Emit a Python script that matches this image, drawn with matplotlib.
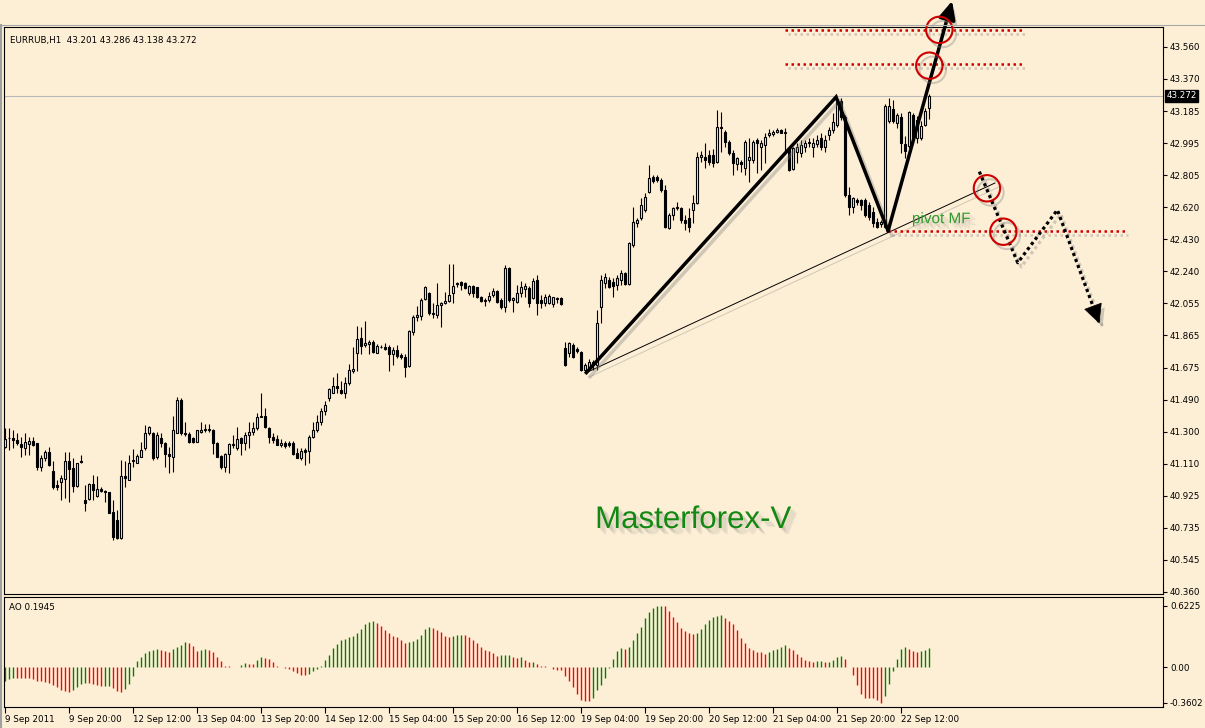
import numpy as np
import matplotlib.pyplot as plt
import matplotlib.patheffects as pe
import matplotlib.transforms as mtrans

BG = '#FDEFD6'

# EURRUB H1 candles, 9 Sep 04:00 .. 22 Sep 19:00 (one entry per hour bar)
opens = [
    41.214, 41.263, 41.263, 41.253, 41.229, 41.204, 41.227, 41.247, 41.233, 41.092,
    41.145, 41.184, 41.073, 40.989, 41.008, 41.022, 41.129, 41.086, 40.983, 41.131,
    40.900, 40.904, 40.994, 40.924, 40.965, 40.953, 40.946, 40.832, 40.783, 40.675,
    41.038, 41.018, 41.126, 41.120, 41.155, 41.204, 41.292, 41.292, 41.151, 41.263,
    41.237, 41.171, 41.155, 41.292, 41.488, 41.292, 41.288, 41.263, 41.243, 41.302,
    41.308, 41.308, 41.311, 41.237, 41.159, 41.092, 41.171, 41.229, 41.204, 41.263,
    41.233, 41.282, 41.298, 41.321, 41.386, 41.394, 41.325, 41.272, 41.257, 41.221,
    41.233, 41.235, 41.237, 41.178, 41.149, 41.194, 41.190, 41.272, 41.308, 41.360,
    41.420, 41.497, 41.530, 41.570, 41.546, 41.527, 41.585, 41.660, 41.765, 41.849,
    41.812, 41.816, 41.830, 41.765, 41.800, 41.797, 41.797, 41.757, 41.781, 41.752,
    41.742, 41.687, 41.889, 41.977, 41.983, 42.078, 42.118, 42.000, 41.986, 42.045,
    42.055, 42.071, 42.118, 42.166, 42.182, 42.172, 42.114, 42.157, 42.149, 42.094,
    42.074, 42.074, 42.104, 42.129, 42.074, 42.031, 42.260, 42.074, 42.065, 42.114,
    42.137, 42.143, 42.084, 42.192, 42.074, 42.055, 42.059, 42.051, 42.088, 42.084,
    41.791, 41.761, 41.810, 41.785, 41.771, 41.663, 41.683, 41.693, 41.693, 42.035,
    42.173, 42.192, 42.182, 42.163, 42.192, 42.235, 42.168, 42.397, 42.528, 42.554,
    42.603, 42.710, 42.795, 42.799, 42.779, 42.720, 42.495, 42.573, 42.622, 42.613,
    42.544, 42.554, 42.603, 42.642, 42.912, 42.912, 42.926, 42.926, 42.887, 43.092,
    43.063, 43.004, 42.935, 42.873, 42.887, 42.847, 42.896, 42.896, 43.014, 42.975,
    42.984, 43.043, 43.049, 43.063, 43.072, 43.057, 42.965, 42.842, 42.945, 42.935,
    42.975, 43.004, 42.975, 42.990, 43.024, 42.975, 43.043, 43.072, 43.102, 43.245,
    43.151, 42.691, 42.622, 42.662, 42.662, 42.662, 42.632, 42.593, 42.534, 42.520,
    42.505, 43.123, 43.198, 43.114, 43.147, 42.990, 42.977, 43.162, 43.025, 43.025,
    43.104, 43.201,
]
highs = [
    41.321, 41.321, 41.311, 41.292, 41.272, 41.292, 41.272, 41.272, 41.237, 41.165,
    41.194, 41.210, 41.126, 41.018, 41.047, 41.184, 41.184, 41.145, 41.120, 41.165,
    40.989, 40.998, 41.047, 41.038, 40.979, 40.959, 40.949, 40.897, 40.842, 41.135,
    41.126, 41.165, 41.198, 41.171, 41.243, 41.341, 41.335, 41.302, 41.302, 41.292,
    41.243, 41.214, 41.394, 41.507, 41.497, 41.360, 41.302, 41.272, 41.311, 41.360,
    41.347, 41.347, 41.315, 41.243, 41.165, 41.178, 41.237, 41.282, 41.331, 41.272,
    41.302, 41.360, 41.355, 41.413, 41.527, 41.439, 41.331, 41.292, 41.282, 41.257,
    41.249, 41.249, 41.249, 41.204, 41.204, 41.204, 41.282, 41.360, 41.400, 41.440,
    41.480, 41.556, 41.620, 41.648, 41.601, 41.624, 41.699, 41.796, 41.922, 41.918,
    41.953, 41.840, 41.840, 41.816, 41.810, 41.820, 41.810, 41.800, 41.810, 41.761,
    41.757, 41.898, 41.986, 42.039, 42.084, 42.157, 42.123, 42.059, 42.172, 42.065,
    42.123, 42.286, 42.286, 42.182, 42.188, 42.180, 42.163, 42.163, 42.153, 42.098,
    42.084, 42.123, 42.143, 42.133, 42.084, 42.280, 42.270, 42.094, 42.163, 42.188,
    42.172, 42.157, 42.202, 42.221, 42.104, 42.110, 42.110, 42.094, 42.094, 42.090,
    41.830, 41.830, 41.820, 41.800, 41.777, 41.703, 41.726, 41.722, 42.016, 42.221,
    42.231, 42.211, 42.202, 42.221, 42.251, 42.241, 42.417, 42.622, 42.554, 42.671,
    42.701, 42.867, 42.808, 42.808, 42.789, 42.750, 42.583, 42.622, 42.652, 42.622,
    42.573, 42.613, 42.691, 42.945, 42.951, 42.994, 42.955, 42.959, 43.190, 43.180,
    43.072, 43.014, 42.955, 42.916, 42.896, 43.014, 43.024, 43.014, 43.024, 43.014,
    43.053, 43.076, 43.072, 43.082, 43.076, 43.082, 42.975, 42.975, 42.994, 43.014,
    43.014, 43.024, 43.024, 43.043, 43.053, 43.043, 43.092, 43.170, 43.258, 43.258,
    43.160, 42.740, 42.681, 42.671, 42.665, 42.671, 42.652, 42.622, 42.554, 42.544,
    43.225, 43.260, 43.251, 43.172, 43.172, 43.035, 43.186, 43.172, 43.153, 43.123,
    43.202, 43.286,
]
lows = [
    41.204, 41.194, 41.204, 41.223, 41.155, 41.165, 41.165, 41.218, 41.077, 41.073,
    41.126, 41.100, 40.963, 40.959, 40.897, 40.910, 40.891, 40.944, 40.979, 41.120,
    40.838, 40.897, 40.900, 40.920, 40.947, 40.891, 40.822, 40.666, 40.670, 40.670,
    40.975, 41.018, 41.092, 41.116, 41.151, 41.194, 41.282, 41.135, 41.139, 41.214,
    41.092, 41.061, 41.067, 41.292, 41.282, 41.276, 41.237, 41.233, 41.243, 41.296,
    41.302, 41.302, 41.171, 41.151, 41.081, 41.067, 41.057, 41.204, 41.194, 41.165,
    41.194, 41.204, 41.282, 41.311, 41.386, 41.321, 41.233, 41.233, 41.223, 41.214,
    41.204, 41.214, 41.165, 41.145, 41.135, 41.106, 41.116, 41.262, 41.302, 41.340,
    41.400, 41.480, 41.527, 41.527, 41.523, 41.497, 41.575, 41.644, 41.660, 41.757,
    41.800, 41.757, 41.761, 41.761, 41.791, 41.781, 41.660, 41.693, 41.732, 41.726,
    41.620, 41.683, 41.869, 41.953, 41.957, 42.074, 41.986, 41.967, 41.967, 41.918,
    42.051, 42.065, 42.055, 42.149, 42.133, 42.137, 42.104, 42.094, 42.084, 42.065,
    42.039, 42.065, 42.094, 42.055, 42.022, 42.002, 42.065, 42.006, 42.059, 42.090,
    42.094, 42.031, 42.078, 41.986, 42.026, 42.039, 42.051, 42.035, 42.059, 42.047,
    41.687, 41.738, 41.732, 41.761, 41.660, 41.644, 41.667, 41.663, 41.663, 41.937,
    42.143, 42.143, 42.094, 42.133, 42.163, 42.163, 42.163, 42.387, 42.505, 42.544,
    42.593, 42.701, 42.763, 42.769, 42.710, 42.495, 42.489, 42.544, 42.603, 42.524,
    42.485, 42.476, 42.524, 42.638, 42.887, 42.847, 42.867, 42.857, 42.877, 42.945,
    42.975, 42.926, 42.808, 42.838, 42.828, 42.808, 42.769, 42.877, 42.818, 42.838,
    42.877, 43.033, 43.037, 43.053, 43.053, 42.945, 42.834, 42.838, 42.877, 42.912,
    42.945, 42.975, 42.916, 42.975, 42.955, 42.945, 43.014, 43.053, 43.092, 43.131,
    42.681, 42.573, 42.583, 42.632, 42.603, 42.564, 42.544, 42.505, 42.495, 42.505,
    42.495, 43.114, 43.114, 43.084, 42.937, 42.908, 42.967, 43.006, 42.996, 43.016,
    43.094, 43.138,
]
closes = [
    41.257, 41.265, 41.253, 41.233, 41.214, 41.243, 41.247, 41.223, 41.096, 41.145,
    41.184, 41.106, 40.979, 40.975, 41.028, 41.126, 41.081, 40.983, 41.116, 41.124,
    40.881, 40.994, 40.959, 40.963, 40.955, 40.949, 40.826, 40.685, 40.675, 41.038,
    41.028, 41.116, 41.135, 41.159, 41.194, 41.296, 41.327, 41.145, 41.282, 41.233,
    41.169, 41.161, 41.311, 41.488, 41.296, 41.286, 41.243, 41.243, 41.308, 41.311,
    41.315, 41.319, 41.237, 41.155, 41.096, 41.171, 41.229, 41.221, 41.257, 41.233,
    41.282, 41.302, 41.325, 41.386, 41.394, 41.331, 41.272, 41.253, 41.225, 41.237,
    41.218, 41.223, 41.171, 41.145, 41.188, 41.180, 41.272, 41.311, 41.360, 41.420,
    41.460, 41.550, 41.570, 41.556, 41.527, 41.589, 41.663, 41.667, 41.843, 41.804,
    41.820, 41.830, 41.771, 41.804, 41.797, 41.789, 41.757, 41.781, 41.746, 41.738,
    41.683, 41.894, 41.977, 41.986, 42.074, 42.149, 42.000, 41.992, 42.045, 42.059,
    42.071, 42.104, 42.157, 42.172, 42.163, 42.143, 42.157, 42.114, 42.090, 42.071,
    42.071, 42.098, 42.129, 42.061, 42.031, 42.260, 42.074, 42.084, 42.118, 42.149,
    42.157, 42.059, 42.188, 42.059, 42.055, 42.094, 42.098, 42.090, 42.080, 42.051,
    41.693, 41.820, 41.742, 41.777, 41.663, 41.693, 41.712, 41.712, 41.937, 42.192,
    42.211, 42.153, 42.157, 42.202, 42.235, 42.168, 42.407, 42.534, 42.544, 42.632,
    42.677, 42.789, 42.775, 42.779, 42.720, 42.505, 42.573, 42.613, 42.613, 42.544,
    42.524, 42.505, 42.642, 42.912, 42.926, 42.896, 42.887, 42.877, 43.092, 43.082,
    43.004, 42.935, 42.877, 42.906, 42.873, 43.004, 42.916, 43.004, 42.994, 42.994,
    43.033, 43.057, 43.063, 43.072, 43.057, 43.063, 42.838, 42.965, 42.975, 42.984,
    42.998, 42.994, 42.994, 43.014, 42.975, 43.014, 43.072, 43.121, 43.239, 43.151,
    42.691, 42.622, 42.671, 42.652, 42.632, 42.573, 42.564, 42.524, 42.505, 42.534,
    43.211, 43.211, 43.123, 43.159, 42.996, 42.947, 43.178, 43.025, 43.133, 43.094,
    43.186, 43.272,
]

# Awesome Oscillator histogram, one value per bar
ao = [
    -0.145, -0.125, -0.110, -0.112, -0.113, -0.114, -0.115, -0.120, -0.138, -0.145,
    -0.152, -0.162, -0.186, -0.206, -0.230, -0.240, -0.253, -0.230, -0.206, -0.172,
    -0.162, -0.166, -0.172, -0.179, -0.196, -0.194, -0.192, -0.212, -0.245, -0.253,
    -0.220, -0.172, -0.088, 0.057, 0.101, 0.142, 0.159, 0.172, 0.182, 0.169,
    0.159, 0.155, 0.182, 0.203, 0.226, 0.253, 0.243, 0.209, 0.159, 0.172,
    0.182, 0.176, 0.152, 0.101, 0.057, 0.014, 0.008, 0.004, 0.003, 0.020,
    0.037, 0.034, 0.030, 0.074, 0.098, 0.088, 0.078, 0.051, 0.010, -0.003,
    -0.007, -0.017, -0.044, -0.064, -0.078, -0.084, -0.071, -0.037, -0.020, 0.007,
    0.066, 0.125, 0.193, 0.233, 0.274, 0.284, 0.301, 0.311, 0.341, 0.385,
    0.432, 0.453, 0.463, 0.446, 0.412, 0.378, 0.341, 0.311, 0.301, 0.274,
    0.243, 0.253, 0.267, 0.284, 0.324, 0.382, 0.402, 0.395, 0.378, 0.355,
    0.311, 0.307, 0.318, 0.322, 0.326, 0.320, 0.300, 0.274, 0.240, 0.206,
    0.176, 0.159, 0.139, 0.112, 0.118, 0.122, 0.125, 0.101, 0.094, 0.098,
    0.074, 0.050, 0.054, 0.027, 0.013, 0.007, 0.005, -0.020, -0.027, -0.030,
    -0.091, -0.139, -0.199, -0.274, -0.335, -0.341, -0.348, -0.314, -0.233, -0.179,
    -0.111, -0.013, 0.081, 0.162, 0.189, 0.186, 0.206, 0.274, 0.341, 0.409,
    0.497, 0.557, 0.600, 0.615, 0.6225, 0.615, 0.563, 0.507, 0.457, 0.397,
    0.363, 0.347, 0.337, 0.347, 0.387, 0.440, 0.477, 0.510, 0.517, 0.530,
    0.497, 0.463, 0.437, 0.377, 0.297, 0.247, 0.197, 0.170, 0.157, 0.150,
    0.130, 0.157, 0.173, 0.187, 0.207, 0.227, 0.197, 0.170, 0.130, 0.097,
    0.070, 0.057, 0.055, 0.060, 0.062, 0.050, 0.053, 0.070, 0.097, 0.110,
    0.077, 0.002, -0.080, -0.180, -0.270, -0.310, -0.312, -0.314, -0.337, -0.3602,
    -0.290, -0.170, -0.040, 0.077, 0.187, 0.205, 0.185, 0.165, 0.150, 0.160,
    0.175, 0.1945,
]

price_ticks = ['40.360', '40.545', '40.735', '40.925', '41.110', '41.300', '41.490',
               '41.675', '41.865', '42.055', '42.240', '42.430', '42.620', '42.805',
               '42.995', '43.185', '43.370', '43.560']
ao_ticks = [-0.3602, 0.0, 0.6225]
ao_tick_labels = ['-0.3602', '0.00', '0.6225']
time_labels = ['9 Sep 2011', '9 Sep 20:00', '12 Sep 12:00', '13 Sep 04:00', '13 Sep 20:00',
               '14 Sep 12:00', '15 Sep 04:00', '15 Sep 20:00', '16 Sep 12:00',
               '19 Sep 04:00', '19 Sep 20:00', '20 Sep 12:00', '21 Sep 04:00',
               '21 Sep 20:00', '22 Sep 12:00']
last_price = 43.272

# hand-drawn analysis objects (bar index, price)
wave_bars = [145.3, 207.7, 220.7, 236.7]
wave_prices = [41.648, 43.266, 42.480, 43.830]
trend_bars = [145.3, 247.4]
trend_prices = [41.648, 42.761]
forecast_bars = [243.5, 253.1, 263.0, 273.5]
forecast_prices = [42.828, 42.293, 42.603, 41.937]
level_prices = [43.660, 43.460, 42.480]
level_start = [194.9, 194.9, 220.7]
level_end = [254.2, 254.2, 279.9]
circle_bars = [233.5, 231.0, 245.4, 249.5]
circle_prices = [43.660, 43.450, 42.730, 42.475]

plt.rcParams['font.family'] = ['DejaVu Sans']
FS = 6.3

fig = plt.figure(figsize=(12.05, 7.28), dpi=100, facecolor=BG)
W, H = 1205, 728
ax = fig.add_axes([4 / W, 1 - 594 / H, 1159 / W, 567 / H], facecolor=BG)
ax2 = fig.add_axes([4 / W, 1 - 707 / H, 1159 / W, 110 / H], facecolor=BG)

o = np.array(opens); h = np.array(highs); l = np.array(lows); c = np.array(closes)
x = np.arange(len(c))
up = c >= o

ax.vlines(x, l, h, color='black', lw=0.8, zorder=2)
ax.bar(x[up], np.maximum(c - o, 0.002)[up], bottom=o[up], width=0.55,
       facecolor=BG, edgecolor='black', lw=0.8, zorder=3)
ax.bar(x[~up], (o - c)[~up], bottom=c[~up], width=0.55,
       facecolor='black', edgecolor='black', lw=0.8, zorder=3)

ax.axhline(last_price, color='#B8B8B8', lw=0.8, zorder=1)

ax.set_xlim(-0.25, 289.4)
ax2.set_xlim(-0.25, 289.4)
ax.set_ylim(40.348, 43.677)
ax2.set_ylim(-0.405, 0.709)

tick_vals = [40.360 + k * 3.2 / 17 for k in range(len(price_ticks))]
ax.yaxis.tick_right()
ax.set_yticks(tick_vals)
ax.set_yticklabels(price_ticks)
ax.set_xticks([])
ax.tick_params(axis='y', direction='out', length=3, width=0.8, pad=2, labelsize=FS)

for a in (ax, ax2):
    for s in a.spines.values():
        s.set_color('black')
        s.set_linewidth(0.8)

# current price tag
blend = mtrans.blended_transform_factory(ax.transAxes, ax.transData)
ax.text(1.003, last_price, '43.272', transform=blend, color='white', fontsize=FS,
        va='center', ha='left',
        bbox=dict(boxstyle='square,pad=0.15', facecolor='black', edgecolor='black'))

ax.text(0.005, 0.985, 'EURRUB,H1  43.201 43.286 43.138 43.272', transform=ax.transAxes,
        fontsize=FS, va='top', ha='left')

# AO histogram
ao_arr = np.array(ao)
rising = np.r_[True, ao_arr[1:] > ao_arr[:-1]]
ao_colors = np.where(rising, '#008000', '#FF0000')
ax2.vlines(x, 0, ao_arr, colors=ao_colors, lw=1.0)
ax2.yaxis.tick_right()
ax2.set_yticks(ao_ticks)
ax2.set_yticklabels(ao_tick_labels)
ax2.tick_params(axis='y', direction='out', length=3, width=0.8, pad=2, labelsize=FS)
ax2.set_xticks(np.arange(0, len(c), 16)[:len(time_labels)])
ax2.set_xticklabels(time_labels, ha='left')
ax2.tick_params(axis='x', direction='out', length=4, width=0.8, pad=1.5, labelsize=FS)
ax2.text(0.004, 0.95, 'AO 0.1945', transform=ax2.transAxes, fontsize=FS, va='top', ha='left')

# analysis drawings
shadow = [pe.SimpleLineShadow(offset=(2.5, -3), shadow_color='#7a7a7a', alpha=0.35), pe.Normal()]
pshadow = [pe.SimplePatchShadow(offset=(2.5, -3), shadow_rgbFace='#7a7a7a', alpha=0.35), pe.Normal()]

ax.plot(trend_bars, trend_prices, color='black', lw=0.7, zorder=5, path_effects=shadow)
ax.plot(wave_bars[:3], wave_prices[:3], color='black', lw=2.5, zorder=6,
        solid_joinstyle='miter', path_effects=shadow)
ax.annotate('', xy=(wave_bars[3], wave_prices[3]), xytext=(wave_bars[2], wave_prices[2]),
            annotation_clip=False, zorder=6,
            arrowprops=dict(arrowstyle='-|>,head_length=0.6,head_width=0.28', color='black',
                            lw=2.5, mutation_scale=18, shrinkA=0, shrinkB=0,
                            path_effects=pshadow))

ax.hlines(level_prices, level_start, level_end, colors='#D00000', lw=1.8,
          linestyles=[(0, (1, 1.4))], zorder=5, path_effects=shadow)

ax.plot(forecast_bars, forecast_prices, color='black', lw=2.3, ls=(0, (1, 1.0)),
        zorder=6, path_effects=shadow)
fx = forecast_bars[2] + 0.86 * (forecast_bars[3] - forecast_bars[2])
fy = forecast_prices[2] + 0.86 * (forecast_prices[3] - forecast_prices[2])
ax.annotate('', xy=(forecast_bars[3], forecast_prices[3]), xytext=(fx, fy), zorder=7,
            annotation_clip=False,
            arrowprops=dict(arrowstyle='-|>,head_length=0.7,head_width=0.35', color='black',
                            lw=0.5, mutation_scale=18, shrinkA=0, shrinkB=0,
                            path_effects=pshadow))

ax.plot(circle_bars, circle_prices, ls='none', marker='o', ms=19, mfc='none',
        mec='#CC0000', mew=1.5, zorder=8, clip_on=False, path_effects=shadow)

# soft blurred drop shadow for the captions
txt_shadow = [pe.SimplePatchShadow(offset=(d, -d), shadow_rgbFace='#707070', alpha=0.1)
              for d in (1.5, 2.5, 3.5, 4.5)] + [pe.Normal()]
ax.text(0.7834, 0.654, 'pivot MF', transform=ax.transAxes, color='#2E9B2E',
        fontsize=11, family='Liberation Sans', ha='left', va='baseline', zorder=9,
        path_effects=txt_shadow)
ax.text(0.510, 0.1164, 'Masterforex-V', transform=ax.transAxes, color='#138813',
        fontsize=22.5, family='Liberation Sans', ha='left', va='baseline', zorder=9,
        path_effects=txt_shadow)

# window frame lines
fig.add_artist(plt.Line2D([0, 1], [1 - 25 / H, 1 - 25 / H], color='#A8A8A8', lw=0.8))
fig.add_artist(plt.Line2D([1 / W, 1 / W], [0, 1 - 25 / H], color='#A0A0A0', lw=1.5))

fig.savefig('out.png', dpi=100, facecolor=BG)
